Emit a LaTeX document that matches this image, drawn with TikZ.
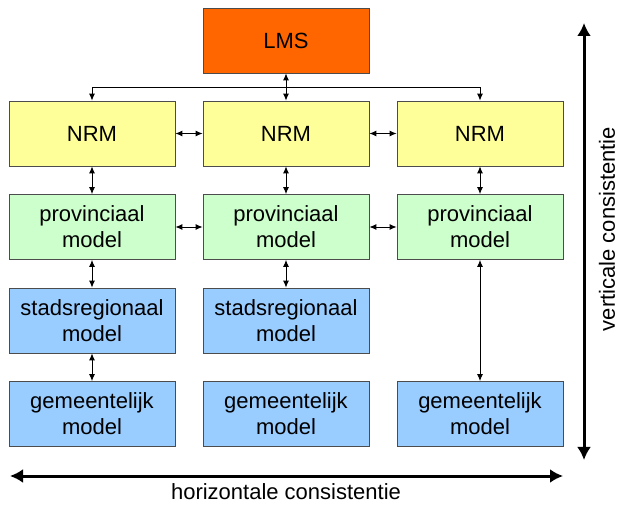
\documentclass[tikz,border=0pt]{standalone}
\usepackage{fontspec}
\setmainfont{Liberation Sans}
\usetikzlibrary{arrows.meta}

\tikzset{
  model/.style={draw=black!70, line width=0.8pt, minimum width=166pt, minimum height=65pt,
    inner sep=0pt, align=center, font=\fontsize{22}{26}\selectfont},
  link/.style={line width=0.9pt, {Latex[length=7pt,width=6pt]}-{Latex[length=7pt,width=6pt]}},
  down/.style={line width=0.9pt, -{Latex[length=7pt,width=6pt]}},
  axis/.style={line width=3pt, {Latex[length=13pt,width=14pt]}-{Latex[length=13pt,width=14pt]}},
  axislabel/.style={inner sep=0pt, font=\fontsize{22}{26}\selectfont},
}

\definecolor{lmsorange}{HTML}{FF6600}
\definecolor{nrmyellow}{HTML}{FFFF99}
\definecolor{provgreen}{HTML}{CCFFCC}
\definecolor{stadsblue}{HTML}{99CCFF}

\begin{document}
\begin{tikzpicture}[x=1pt, y=1pt]
\useasboundingbox (0,0) rectangle (620,508);

  \node[model, fill=lmsorange] (lms) at (286,467.5) {LMS};

  % NRM and provinciaal rows
  \foreach \i/\x in {1/92, 2/286, 3/480} {%
    \node[model, fill=nrmyellow] (nrm\i) at (\x,374.5) {NRM};
    \node[model, fill=provgreen] (prov\i) at (\x,281) {provinciaal\\model};
  }

  \node[model, fill=stadsblue] (stads1) at (92,187.5) {stadsregionaal\\model};
  \node[model, fill=stadsblue] (stads2) at (286,187.5) {stadsregionaal\\model};

  \node[model, fill=stadsblue] (gem1) at (92,94) {gemeentelijk\\model};
  \node[model, fill=stadsblue] (gem2) at (286,94) {gemeentelijk\\model};
  \node[model, fill=stadsblue] (gem3) at (480,94) {gemeentelijk\\model};

  % LMS to the NRM row
  \coordinate (bus) at (286,421);
  \draw[link] (lms.south) -- (nrm2.north);
  \draw[down] (bus) -| (nrm1.north);
  \draw[down] (bus) -| (nrm3.north);

  % horizontal links
  \draw[link] (nrm1.east) -- (nrm2.west);
  \draw[link] (nrm2.east) -- (nrm3.west);
  \draw[link] (prov1.east) -- (prov2.west);
  \draw[link] (prov2.east) -- (prov3.west);

  % vertical links
  \foreach \i in {1, 2, 3} {%
    \draw[link] (nrm\i.south) -- (prov\i.north);
  }
  \draw[link] (prov1.south) -- (stads1.north);
  \draw[link] (prov2.south) -- (stads2.north);
  \draw[link] (stads1.south) -- (gem1.north);
  \draw[link] (prov3.south) -- (gem3.north);

  % consistentie axes
  \coordinate (vtop) at (584,485);
  \coordinate (vbot) at (584,48);
  \coordinate (hleft) at (10,32);
  \coordinate (hright) at (563,32);
  \draw[axis] (vbot) -- (vtop);
  \draw[axis] (hleft) -- (hright);

  \node[axislabel, rotate=90] (vlabel) at (607,279) {verticale consistentie};
  \node[axislabel] (hlabel) at (286,16) {horizontale consistentie};
\end{tikzpicture}
\end{document}
